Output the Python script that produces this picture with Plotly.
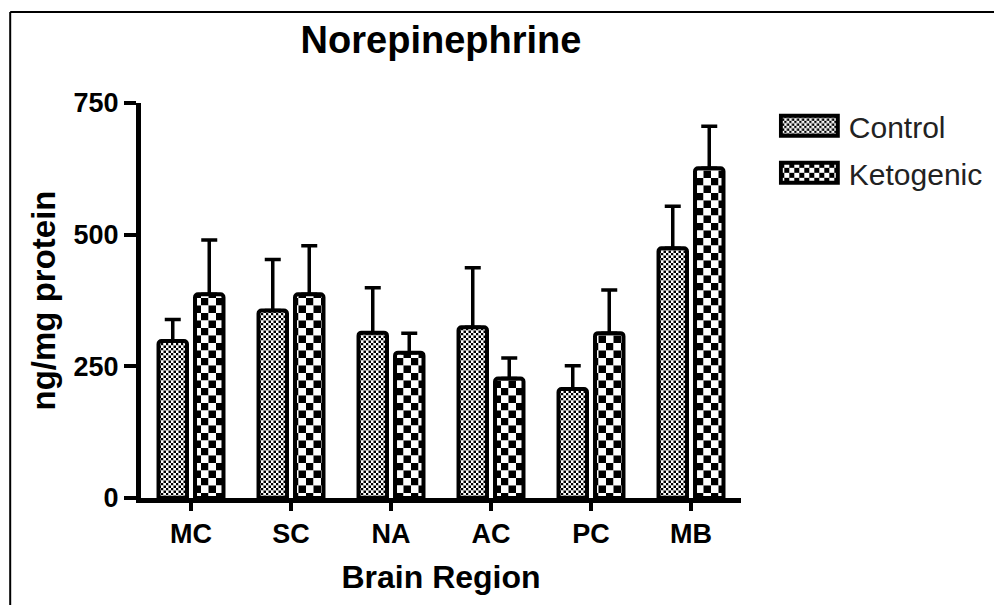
import plotly.graph_objects as go

# Brain regions and norepinephrine levels (ng/mg protein)
regions = ["MC", "SC", "NA", "AC", "PC", "MB"]
control_mean = [298, 356, 314, 324, 207, 474]
control_sem = [41, 97, 85, 113, 44, 80]
keto_mean = [387, 387, 276, 227, 313, 626]
keto_sem = [103, 92, 37, 39, 82, 80]
y_ticks = [0, 250, 500, 750]

FONT = "Liberation Sans, Arial, sans-serif"


def bar_trace(name, means, sems, pat_size):
    return go.Bar(
        name=name,
        legendgroup=name,
        x=regions,
        y=means,
        marker=dict(
            color="white",
            line=dict(color="black", width=4),
            pattern=dict(shape=".", size=pat_size, solidity=0.5,
                         fgcolor="black", bgcolor="white"),
            cornerradius=3,
        ),
        error_y=dict(type="data", symmetric=False, array=sems,
                     arrayminus=[0] * len(sems), color="black",
                     thickness=3.5, width=8),
    )


fig = go.Figure([
    bar_trace("Control", control_mean, control_sem, 5),
    bar_trace("Ketogenic", keto_mean, keto_sem, 15),
])

fig.update_layout(
    width=994, height=605,
    margin=dict(l=141, r=253, t=103, b=107, autoexpand=False),
    paper_bgcolor="white", plot_bgcolor="white",
    barmode="group", bargap=0.27, bargroupgap=0.22,
    font=dict(family=FONT, color="black"),
    title=dict(text="Norepinephrine", x=0.5, xref="paper",
               y=1 - 40 / 605, yanchor="middle",
               font=dict(family=FONT, size=38, weight="bold")),
    showlegend=True,
    legend=dict(x=1.063, y=1.008, xanchor="left", yanchor="top",
                font=dict(family=FONT, size=30, color="#222"),
                bgcolor="rgba(0,0,0,0)", itemwidth=60,
                tracegroupgap=5),
    shapes=[
        dict(type="line", xref="paper", yref="paper", x0=-0.218, x1=1.5,
             y0=1.2304, y1=1.2304, line=dict(color="black", width=2)),
        dict(type="line", xref="paper", yref="paper", x0=-0.218, x1=-0.218,
             y0=1.2304, y1=-0.3, line=dict(color="black", width=2)),
    ],
)

fig.update_xaxes(
    showline=True, linecolor="black", linewidth=5,
    ticks="outside", ticklen=8, tickwidth=3.5, tickcolor="black",
    tickfont=dict(family=FONT, size=27, weight="bold"),
    range=[-0.5, 5.5], showgrid=False, zeroline=False,
    title=dict(text="Brain Region", standoff=19,
               font=dict(family=FONT, size=32, weight="bold")),
)
fig.update_yaxes(
    showline=True, linecolor="black", linewidth=5,
    ticks="outside", ticklen=12, tickwidth=3.5, tickcolor="black",
    tickvals=y_ticks, ticktext=[str(v) for v in y_ticks],
    tickfont=dict(family=FONT, size=27, weight="bold"),
    range=[0, 750], showgrid=False, zeroline=False,
    title=dict(text="ng/mg protein", standoff=9,
               font=dict(family=FONT, size=33, weight="bold")),
)

# Checkerboard fills for the bar patterns and wider legend swatches
post = """
var gd = document.getElementById('{plot_id}');
var NS = 'http://www.w3.org/2000/svg';
gd.querySelectorAll('pattern').forEach(function(p){
  var w = parseFloat(p.getAttribute('width'));
  var s = w / 2;
  p.removeAttribute('patternTransform');
  while (p.firstChild) p.removeChild(p.firstChild);
  function r(x, y, c){
    var e = document.createElementNS(NS, 'rect');
    e.setAttribute('x', x); e.setAttribute('y', y);
    e.setAttribute('width', s); e.setAttribute('height', s);
    e.setAttribute('fill', c); p.appendChild(e);
  }
  r(0, 0, '#000'); r(s, 0, '#fff'); r(0, s, '#fff'); r(s, s, '#000');
});
gd.querySelectorAll('.legendpoints path').forEach(function(el){
  el.setAttribute('d', 'M28.5,10H-28.5V-10H28.5Z');
  el.setAttribute('transform', 'translate(30.5,0)');
  el.style.strokeWidth = '4px';
});
"""

fig.write_html("out.html", post_script=post)
